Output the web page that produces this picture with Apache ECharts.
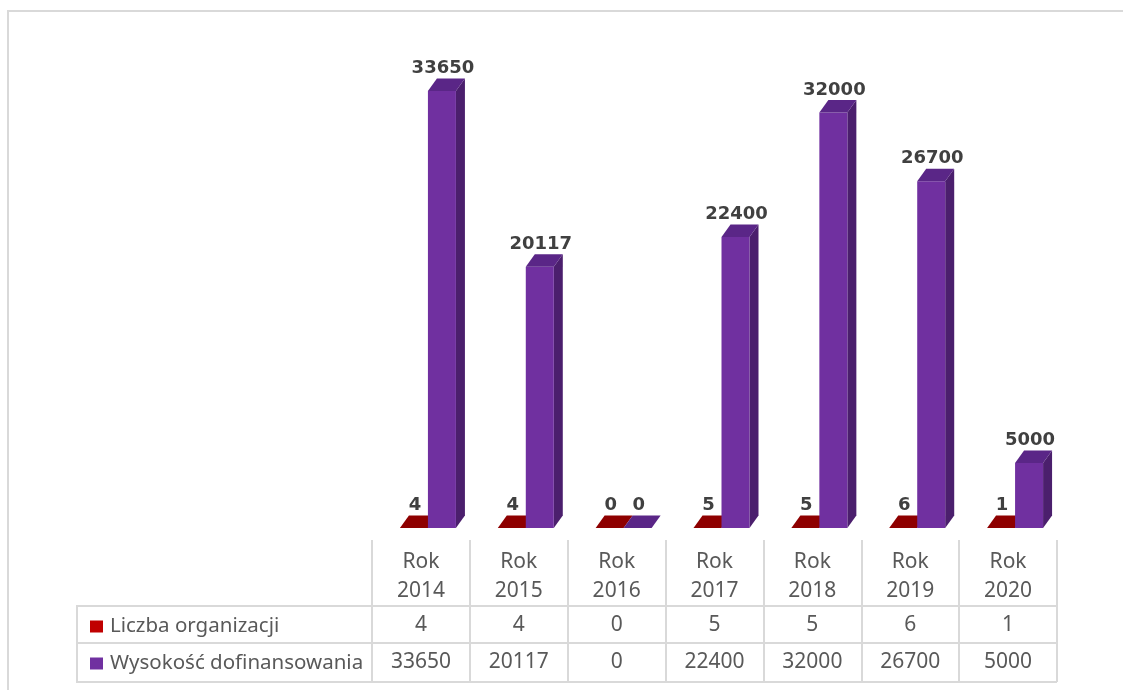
<!DOCTYPE html>
<html>
<head>
<meta charset="utf-8">
<script src="https://cdn.jsdelivr.net/npm/echarts@6/dist/echarts.min.js"></script>
<style>
  html, body { margin: 0; padding: 0; background: #fff; }
  #chart { width: 1123px; height: 690px; }
</style>
</head>
<body>
<div id="chart"></div>
<script>
var years = ['Rok\n2014', 'Rok\n2015', 'Rok\n2016', 'Rok\n2017', 'Rok\n2018', 'Rok\n2019', 'Rok\n2020'];
var orgCounts = [4, 4, 0, 5, 5, 6, 1];
var funding = [33650, 20117, 0, 22400, 32000, 26700, 5000];
var seriesNames = ['Liczba organizacji', 'Wysokość dofinansowania'];

// look of the fake 3d columns
var BAR_W = 28, DX = 9, DY = 12.5;

function bar3d(offset, front, side, top) {
  return function (params, api) {
    var base = api.coord([api.value(0), 0]);
    var peak = api.coord([api.value(0), api.value(1)]);
    var x0 = base[0] + offset, x1 = x0 + BAR_W;
    var y0 = base[1], y1 = peak[1];
    return {
      type: 'group',
      children: [
        { type: 'polygon', shape: { points: [[x1, y0], [x1 + DX, y0 - DY], [x1 + DX, y1 - DY], [x1, y1]] }, style: { fill: side } },
        { type: 'rect', shape: { x: x0, y: y1, width: BAR_W, height: y0 - y1 }, style: { fill: front } },
        { type: 'polygon', shape: { points: [[x0, y1], [x1, y1], [x1 + DX, y1 - DY], [x0 + DX, y1 - DY]] }, style: { fill: top } },
        { type: 'text', x: (x0 + x1) / 2 + 1, y: y1 - DY - 1,
          style: { text: String(api.value(1)), align: 'center', verticalAlign: 'bottom',
                   fontFamily: 'DejaVu Sans', fontWeight: 'bold', fontSize: 18, fill: '#404040' } }
      ]
    };
  };
}

var tableLabel = { fontFamily: 'Noto Sans', fontSize: 21, color: '#595959' };

var chart = echarts.init(document.getElementById('chart'));
chart.setOption({
  animation: false,
  color: ['#C00000', '#7030A0'],
  grid: [
    { left: 372, right: 66, top: 8.5, bottom: 162 },
    { left: 372, right: 66, top: 540, height: 142 }
  ],
  legend: {
    orient: 'vertical', left: 85, top: 611,
    data: seriesNames,
    icon: 'rect', itemWidth: 13, itemHeight: 12, itemGap: 16,
    textStyle: { fontFamily: 'Noto Sans', fontSize: 20.5, color: '#595959', lineHeight: 21, padding: [0, 0, 0, 2] },
    selectedMode: false
  },
  xAxis: [
    { type: 'category', gridIndex: 0, data: years, show: false },
    { type: 'category', gridIndex: 1, data: years, position: 'top',
      axisLine: { show: false }, axisTick: { show: false },
      splitLine: { show: true, lineStyle: { color: '#D9D9D9', width: 2 } },
      axisLabel: Object.assign({ inside: true, margin: 37, verticalAlign: 'middle', lineHeight: 29 }, tableLabel) },
    { type: 'category', gridIndex: 1, data: orgCounts.map(String), position: 'top',
      axisLine: { show: false }, axisTick: { show: false }, splitLine: { show: false },
      axisLabel: Object.assign({ inside: true, margin: 85, verticalAlign: 'middle' }, tableLabel) },
    { type: 'category', gridIndex: 1, data: funding.map(String), position: 'top',
      axisLine: { show: false }, axisTick: { show: false }, splitLine: { show: false },
      axisLabel: Object.assign({ inside: true, margin: 122, verticalAlign: 'middle' }, tableLabel) }
  ],
  yAxis: [
    { type: 'value', gridIndex: 0, min: 0, max: 40000, show: false },
    { type: 'value', gridIndex: 1, show: false }
  ],
  graphic: [
    { type: 'polyline', shape: { points: [[8, 690], [8, 11], [1123, 11]] }, style: { stroke: '#D9D9D9', lineWidth: 2, fill: null } },
    { type: 'line', shape: { x1: 77, y1: 606, x2: 1057, y2: 606 }, style: { stroke: '#D9D9D9', lineWidth: 2 } },
    { type: 'line', shape: { x1: 77, y1: 643, x2: 1057, y2: 643 }, style: { stroke: '#D9D9D9', lineWidth: 2 } },
    { type: 'line', shape: { x1: 77, y1: 682, x2: 1057, y2: 682 }, style: { stroke: '#D9D9D9', lineWidth: 2 } },
    { type: 'line', shape: { x1: 77, y1: 605, x2: 77, y2: 683 }, style: { stroke: '#D9D9D9', lineWidth: 2 } }
  ],
  series: [
    { name: seriesNames[0], type: 'custom', xAxisIndex: 0, yAxisIndex: 0,
      data: orgCounts.map(function (v, i) { return [i, v]; }),
      renderItem: bar3d(-21, '#C00000', '#7A0000', '#8E0000') },
    { name: seriesNames[1], type: 'custom', xAxisIndex: 0, yAxisIndex: 0,
      data: funding.map(function (v, i) { return [i, v]; }),
      renderItem: bar3d(7, '#7030A0', '#4B1F6D', '#5A2687') }
  ]
});
</script>
</body>
</html>
